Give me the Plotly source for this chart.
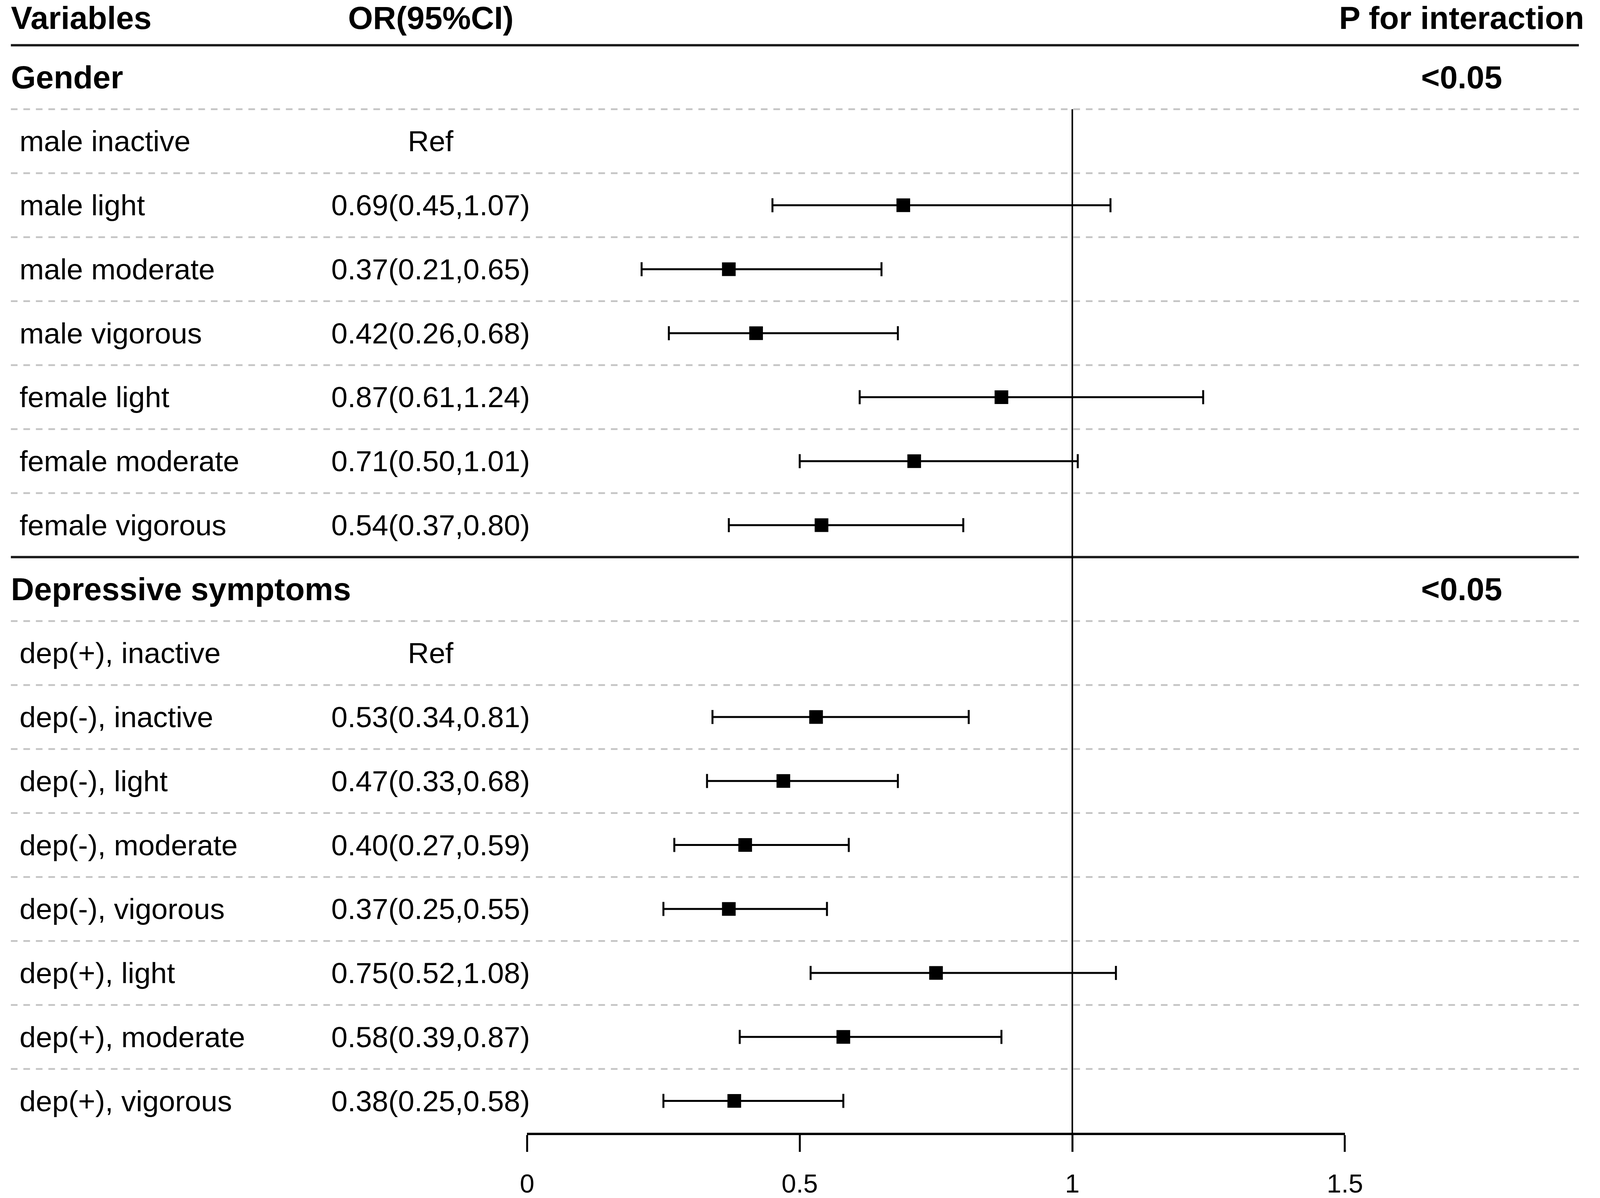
import plotly.graph_objects as go

# ---------------- data ----------------
col_headers = ["Variables", "OR(95%CI)", "P for interaction"]

row_labels = [
    "Gender",
    "male inactive", "male light", "male moderate", "male vigorous",
    "female light", "female moderate", "female vigorous",
    "Depressive symptoms",
    "dep(+), inactive", "dep(-), inactive", "dep(-), light", "dep(-), moderate",
    "dep(-), vigorous", "dep(+), light", "dep(+), moderate", "dep(+), vigorous",
]
row_is_group = [True, False, False, False, False, False, False, False,
                True, False, False, False, False, False, False, False, False]
or_est = [None, None, 0.69, 0.37, 0.42, 0.87, 0.71, 0.54,
          None, None, 0.53, 0.47, 0.40, 0.37, 0.75, 0.58, 0.38]
ci_low = [None, None, 0.45, 0.21, 0.26, 0.61, 0.50, 0.37,
          None, None, 0.34, 0.33, 0.27, 0.25, 0.52, 0.39, 0.25]
ci_high = [None, None, 1.07, 0.65, 0.68, 1.24, 1.01, 0.80,
           None, None, 0.81, 0.68, 0.59, 0.55, 1.08, 0.87, 0.58]
is_ref = [False, True, False, False, False, False, False, False,
          False, True, False, False, False, False, False, False, False]
p_interaction = ["<0.05", "", "", "", "", "", "", "",
                 "<0.05", "", "", "", "", "", "", "", ""]

x_ticks = [0, 0.5, 1, 1.5]
x_ticktext = ["0", "0.5", "1", "1.5"]
ref_value = 1

# ---------------- layout constants ----------------
RW, RH = 4562, 3066          # reference geometry (positions are fractions of it)
W, H = 4159, 3066            # default page size; resized to the viewport in JS
FONT = "Liberation Sans, Arial, sans-serif"
REG = 75
BOLD = 82

def px(x):
    return x / RW

rows_y = [i + 1 for i in range(len(row_labels))]   # header row is y=0
n_last = rows_y[-1]

fig = go.Figure()

xs, ys, ep, em = [], [], [], []
for y, e, lo, hi in zip(rows_y, or_est, ci_low, ci_high):
    if e is None:
        continue
    xs.append(e)
    ys.append(y)
    ep.append(hi - e)
    em.append(e - lo)

fig.add_trace(go.Scatter(
    x=xs, y=ys, mode="markers",
    marker=dict(symbol="square", size=35, color="black", line=dict(width=0)),
    error_x=dict(type="data", symmetric=False, array=ep, arrayminus=em,
                 color="black", thickness=5, width=18),
    hoverinfo="skip", showlegend=False,
))

shapes = []
group_rows = [y for y, g in zip(rows_y, row_is_group) if g]
solid_at = [y - 0.5 for y in group_rows]
for yb in solid_at:
    shapes.append(dict(type="line", xref="paper", yref="y",
                       x0=px(10), x1=px(4554), y0=yb, y1=yb,
                       line=dict(color="#1a1a1a", width=6), layer="below"))
for y in rows_y[:-1]:
    yb = y + 0.5
    if yb in solid_at:
        continue
    shapes.append(dict(type="line", xref="paper", yref="y",
                       x0=px(10), x1=px(4554), y0=yb, y1=yb,
                       line=dict(color="#c4c4c4", width=4.5, dash="17px,15px"),
                       layer="below"))
shapes.append(dict(type="line", xref="x", yref="y",
                   x0=ref_value, x1=ref_value, y0=1.5, y1=n_last + 0.5,
                   line=dict(color="black", width=4), layer="below"))

ann = []
def add_text(text, x, y, anchor, size, bold=False, yshift=0):
    ann.append(dict(text=("<b>%s</b>" % text) if bold else text,
                    x=x, y=y, xref="paper", yref="y",
                    xanchor=anchor, yanchor="middle", showarrow=False,
                    yshift=yshift,
                    font=dict(family=FONT, size=size, color="black")))

COL1_G = px(8)
COL1_S = px(33)
COL2 = px(1227)
COL3 = px(4214)

add_text(col_headers[0], COL1_G, 0, "left", BOLD, True, -12)
add_text(col_headers[1], COL2, 0, "center", BOLD, True, -12)
add_text(col_headers[2], COL3, 0, "center", BOLD, True, -12)

for y, lab, g, e, lo, hi, r, p in zip(rows_y, row_labels, row_is_group,
                                      or_est, ci_low, ci_high, is_ref, p_interaction):
    if g:
        add_text(lab, COL1_G, y, "left", BOLD, True)
    else:
        add_text(lab, COL1_S, y, "left", REG)
    if r:
        add_text("Ref", COL2, y, "center", REG)
    elif e is not None:
        add_text("%.2f(%.2f,%.2f)" % (e, lo, hi), COL2, y, "center", REG)
    if p:
        add_text(p, COL3, y, "center", BOLD, True)

axis_px = 34 + 163.9 * (n_last + 0.5)
top_val = -34 / 163.9

fig.update_layout(
    width=W, height=H,
    margin=dict(l=0, r=0, t=0, b=0, pad=0),
    paper_bgcolor="white", plot_bgcolor="white",
    showlegend=False,
    shapes=shapes, annotations=ann,
    xaxis=dict(domain=[px(1506), px(3876)], range=[0, 1.5],
               tickvals=x_ticks, ticktext=x_ticktext,
               showline=True, linewidth=6, linecolor="black",
               ticks="outside", ticklen=43, tickwidth=5, tickcolor="black",
               showgrid=False, zeroline=False,
               tickfont=dict(family=FONT, size=67, color="black"),
               ticklabelstandoff=23, fixedrange=True),
    yaxis=dict(domain=[(RH - axis_px) / RH, 1], range=[n_last + 0.5, top_val],
               visible=False, showgrid=False, zeroline=False, fixedrange=True),
)

# make the figure fill the browser viewport exactly
fit_js = """
var gd = document.getElementById('{plot_id}');
document.documentElement.style.margin = '0';
document.body.style.margin = '0';
document.documentElement.style.overflow = 'hidden';
document.body.style.overflow = 'hidden';
gd.style.position = 'fixed';
gd.style.left = '0px';
gd.style.top = '0px';
Plotly.relayout(gd, {width: window.innerWidth, height: window.innerHeight});
"""

fig.write_html("out.html", post_script=fit_js, config={"displayModeBar": False})
